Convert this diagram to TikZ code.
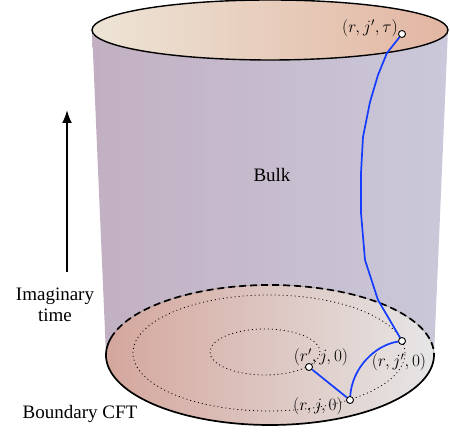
\documentclass[tikz,border=0pt]{standalone}
\usepackage{fontspec}
\setmainfont{Liberation Serif}
\usetikzlibrary{arrows.meta}
\definecolor{bulkleft}{RGB}{194,176,194}
\definecolor{bulkmid}{RGB}{224,216,238}
\definecolor{bulkright}{RGB}{202,200,218}
\definecolor{capleft}{RGB}{237,228,214}
\definecolor{capright}{RGB}{226,182,162}
\definecolor{diskleft}{RGB}{212,166,156}
\definecolor{diskmid}{RGB}{224,206,206}
\definecolor{diskright}{RGB}{230,230,230}
\definecolor{worldblue}{RGB}{20,60,255}
\begin{document}
\begin{tikzpicture}[x=1pt,y=1pt,
  pt/.style={circle, draw=black, fill=white, line width=0.9pt, inner sep=0pt, minimum size=7pt},
  lbl/.style={inner sep=0pt, font=\fontsize{17.28}{20}\selectfont},
  txt/.style={inner sep=0pt, align=center, font=\fontsize{19}{21}\selectfont},
  wline/.style={draw=worldblue, line width=1.7pt, line join=round},
  orbit/.style={line width=0.8pt, dash pattern=on 1pt off 3pt}]
\useasboundingbox (0,0) rectangle (450,433);
% side of the cylinder
\shade[left color=bulkleft, middle color=bulkmid, right color=bulkright]
  (92,403) -- (106,78) arc[start angle=180, end angle=360, x radius=164, y radius=70]
  -- (448,403) arc[start angle=0, end angle=-180, x radius=178, y radius=30] -- cycle;
% top cap
\shade[left color=capleft, right color=capright] (270,403) ellipse[x radius=178, y radius=30];
\draw[line width=1.4pt] (270,403) ellipse[x radius=178, y radius=30];
% boundary disk
\shade[left color=diskleft, middle color=diskmid, right color=diskright] (270,78) ellipse[x radius=164, y radius=70];
\draw[gray, line width=0.3pt] (270,78) ellipse[x radius=164, y radius=70];
\draw[line width=1.7pt, dash pattern=on 7pt off 4pt] (270,78) ++(-4:164 and 70) arc[start angle=-4, end angle=165, x radius=164, y radius=70];
\draw[line width=1.7pt] (270,78) ++(165:164 and 70) arc[start angle=165, end angle=356, x radius=164, y radius=70];
% labels
\node[lbl] (tauL) at (370,405) {$(r,j',\tau)$};
\node[lbl] (rpL) at (321,76) {$(r',j,0)$};
\node[lbl] (jpL) at (399,71) {$(r,j',0)$};
\node[lbl] (jL) at (318,27) {$(r,j,0)$};
% orbits on the boundary
\draw[orbit] (269,80) ellipse[x radius=136, y radius=58];
\draw[orbit] (265,81) ellipse[x radius=55, y radius=23];
% points
\node[pt] (tau) at (402,399) {};
\node[pt] (jp) at (402,92) {};
\node[pt] (j) at (350,33) {};
\node[pt] (rp) at (309,66) {};
% world lines
\draw[wline] (rp) -- (j);
\draw[wline] (j) .. controls (352,65) and (375,88) .. (jp);
\draw[wline] (tau) -- (387,380) -- (378,358) -- (370,331) -- (363,296) -- (361,260)
  -- (361,220) -- (365,173) -- (378,133) -- (jp);
% texts
\node[txt] (bulk) at (272,258) {Bulk};
\node[txt] (imag) at (55,128) {Imaginary\\time};
\node[txt] (bdry) at (80,19) {Boundary CFT};
% time arrow
\coordinate (tail) at (67,161);
\coordinate (head) at (67,323);
\draw[line width=2pt, -{Latex[length=13pt, width=10pt]}] (tail) -- (head);
\end{tikzpicture}
\end{document}
